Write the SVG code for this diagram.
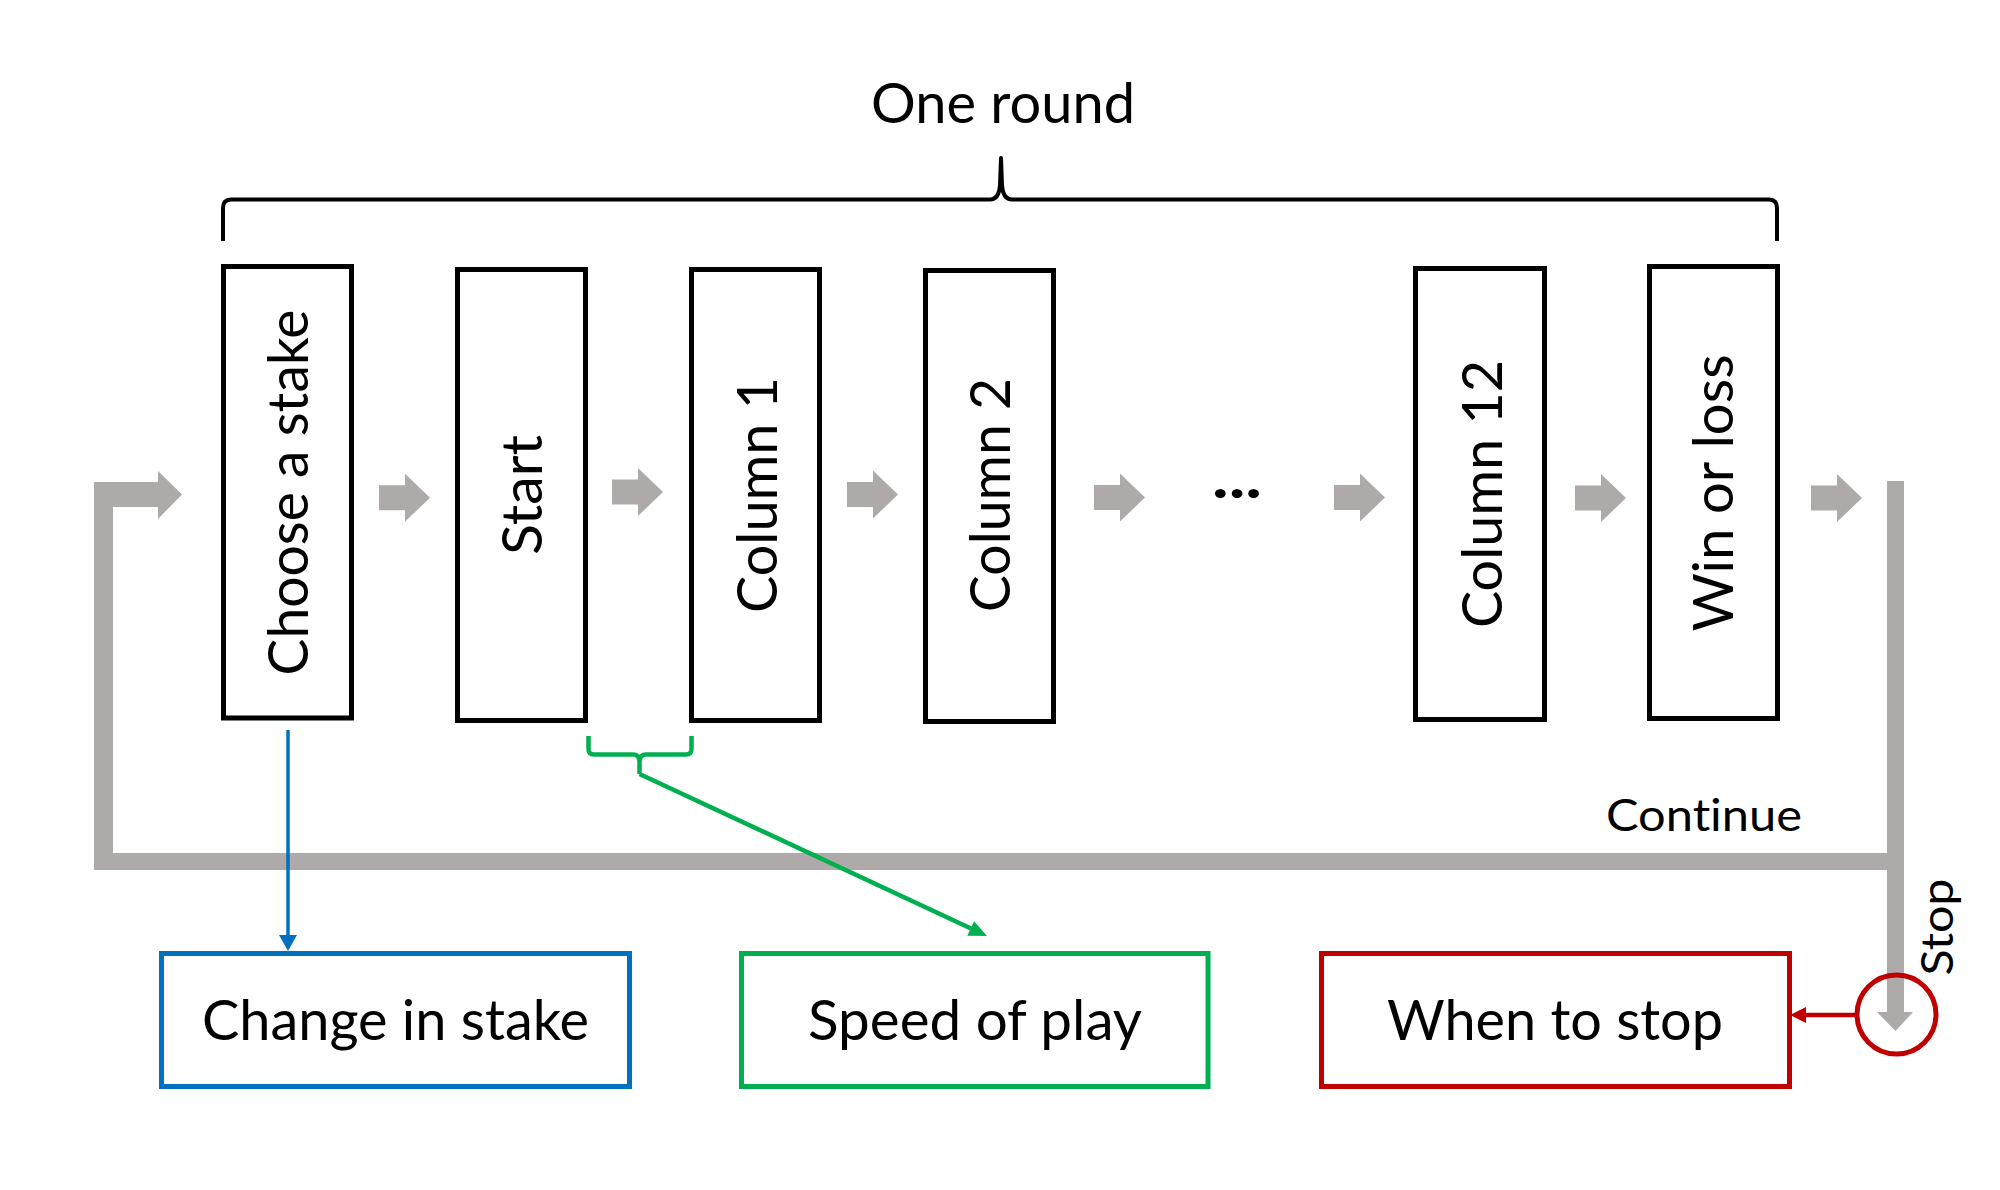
<svg xmlns="http://www.w3.org/2000/svg" xmlns:xlink="http://www.w3.org/1999/xlink" width="2000" height="1190" viewBox="0 0 2000 1190">
<style>
  .t { font-family: Lato, "Open Sans", "Liberation Sans", sans-serif; fill: #000; font-variant-ligatures: none; font-feature-settings: "liga" 0, "clig" 0; }
  .big { font-size: 56px; }
  .mid { font-size: 45px; }
  .box { fill: #fff; stroke: #000; stroke-width: 5; }
  .gray { fill: #AEAAAA; }
  .brk { fill: none; stroke: #000; stroke-width: 4; stroke-linejoin: round; }
</style>
<defs>
  <path id="ga" d="M0,-12.5 H26 V-24 L51,0 L26,24 V12.5 H0 Z"/>
</defs>
<rect width="2000" height="1190" fill="#fff"/>

<g id="title">
  <text class="t big" x="1003" y="123" text-anchor="middle" textLength="264" lengthAdjust="spacingAndGlyphs">One round</text>
  <path class="brk" d="M223,241 V208 Q223,199.5 231,199.5 H990 Q999,199.5 1000,185 L1001,158 L1002,185 Q1003,199.5 1012,199.5 H1769 Q1777,199.5 1777,208 V241"/>
</g>

<g id="connectors">
  <path class="gray" d="M94,870 V482 H158 V471 L182,494.5 L158,519 V507 H113 V853 H1887 V481 H1904 V1012 H1913 L1895.5,1031 L1877,1012 H1887 V870 Z"/>
  <use href="#ga" xlink:href="#ga" class="gray" x="379" y="497.7"/>
  <use href="#ga" xlink:href="#ga" class="gray" x="612" y="492"/>
  <use href="#ga" xlink:href="#ga" class="gray" x="847" y="494.5"/>
  <use href="#ga" xlink:href="#ga" class="gray" x="1094" y="497.5"/>
  <use href="#ga" xlink:href="#ga" class="gray" x="1334" y="497.5"/>
  <use href="#ga" xlink:href="#ga" class="gray" x="1575" y="498"/>
  <use href="#ga" xlink:href="#ga" class="gray" x="1811" y="498"/>
  <!-- blue -->
  <line x1="288" y1="730" x2="288" y2="937" stroke="#0070C0" stroke-width="3.5"/>
  <polygon points="279,935 297,935 288,951" fill="#0070C0"/>
  <!-- green -->
  <path d="M588.5,736 V749 Q588.5,754.5 594,754.5 H633 Q639.5,754.5 639.5,762 V774 M639.5,762 Q639.5,754.5 646,754.5 H686 Q691.5,754.5 691.5,749 V736" fill="none" stroke="#00B050" stroke-width="4.5"/>
  <line x1="639.5" y1="774" x2="971" y2="928.5" stroke="#00B050" stroke-width="4.5"/>
  <polygon points="987,936 967.3,935.7 974.1,921.2" fill="#00B050"/>
  <!-- red -->
  <circle cx="1896.5" cy="1014.5" r="39.5" fill="none" stroke="#C00000" stroke-width="5"/>
  <line x1="1857" y1="1015" x2="1803" y2="1015" stroke="#C00000" stroke-width="4.5"/>
  <polygon points="1806,1007 1806,1023 1790,1015" fill="#C00000"/>
  <text class="t mid" x="1704" y="831" text-anchor="middle" textLength="196" lengthAdjust="spacingAndGlyphs">Continue</text>
  <text class="t mid" x="1953" y="927" text-anchor="middle" transform="rotate(-90 1953 927)" textLength="97" lengthAdjust="spacingAndGlyphs">Stop</text>
</g>

<g id="choose">
  <rect class="box" x="223.5" y="266.5" width="128" height="451.5"/>
  <text class="t big" x="308" y="492.5" text-anchor="middle" transform="rotate(-90 308 492.5)" textLength="366" lengthAdjust="spacingAndGlyphs">Choose a stake</text>
</g>
<g id="start">
  <rect class="box" x="457.5" y="269.5" width="128" height="451"/>
  <text class="t big" x="542" y="495" text-anchor="middle" transform="rotate(-90 542 495)" textLength="120" lengthAdjust="spacingAndGlyphs">Start</text>
</g>
<g id="column1">
  <rect class="box" x="691.5" y="269.5" width="128" height="451"/>
  <text class="t big" x="777" y="495" text-anchor="middle" transform="rotate(-90 777 495)" textLength="236" lengthAdjust="spacingAndGlyphs">Column 1</text>
</g>
<g id="column2">
  <rect class="box" x="925.5" y="270.5" width="128" height="451"/>
  <text class="t big" x="1010" y="495" text-anchor="middle" transform="rotate(-90 1010 495)" textLength="234" lengthAdjust="spacingAndGlyphs">Column 2</text>
</g>
<g id="ellipsis">
  <text class="t" x="1212" y="498" font-size="60" font-weight="bold" textLength="50" lengthAdjust="spacingAndGlyphs">...</text>
</g>
<g id="column12">
  <rect class="box" x="1415.5" y="268.5" width="129" height="451"/>
  <text class="t big" x="1502" y="494" text-anchor="middle" transform="rotate(-90 1502 494)" textLength="268" lengthAdjust="spacingAndGlyphs">Column 12</text>
</g>
<g id="winloss">
  <rect class="box" x="1649.5" y="266.5" width="128" height="452"/>
  <text class="t big" x="1733" y="493" text-anchor="middle" transform="rotate(-90 1733 493)" textLength="277" lengthAdjust="spacingAndGlyphs">Win or loss</text>
</g>

<g id="change-in-stake">
  <rect x="161.5" y="953.5" width="468" height="133" fill="#fff" stroke="#0070C0" stroke-width="5"/>
  <text class="t big" x="395.5" y="1040" text-anchor="middle" textLength="387" lengthAdjust="spacingAndGlyphs">Change in stake</text>
</g>
<g id="speed-of-play">
  <rect x="741.5" y="953.5" width="466.5" height="133" fill="#fff" stroke="#00B050" stroke-width="5"/>
  <text class="t big" x="975" y="1040" text-anchor="middle" textLength="334" lengthAdjust="spacingAndGlyphs">Speed of play</text>
</g>
<g id="when-to-stop">
  <rect x="1321.5" y="953.5" width="468" height="133" fill="#fff" stroke="#C00000" stroke-width="5"/>
  <text class="t big" x="1555" y="1040" text-anchor="middle" textLength="336" lengthAdjust="spacingAndGlyphs">When to stop</text>
</g>
</svg>
